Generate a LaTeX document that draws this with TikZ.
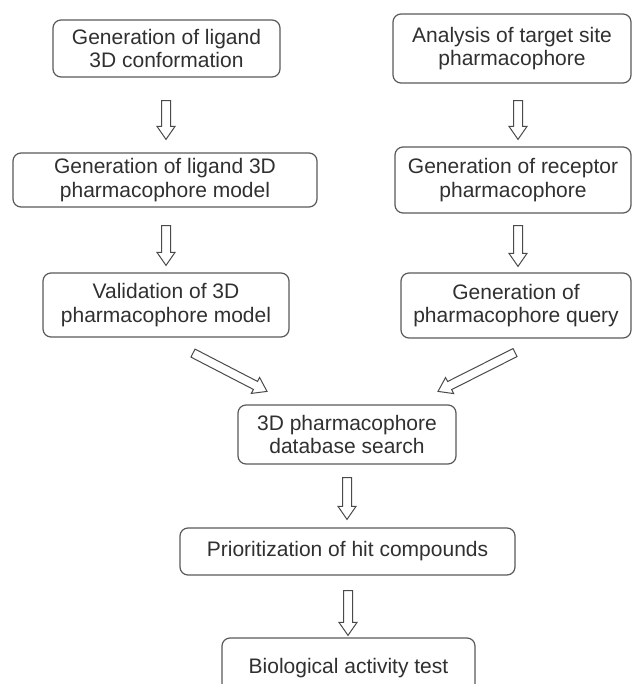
\documentclass[tikz,border=0pt]{standalone}
\usepackage{fontspec}
\setmainfont{Liberation Sans}
\usetikzlibrary{calc}
\definecolor{boxline}{HTML}{5A5A5A}
\definecolor{txt}{HTML}{303030}
\definecolor{arrline}{HTML}{4A4A4A}
\tikzset{
  stepbox/.style={draw=boxline, line width=1.2pt, rounded corners=8pt, fill=white,
    align=center, text=txt, inner sep=0pt,
    font=\fontsize{21}{23.5}\selectfont},
  hollowarrow/.style={draw=arrline, line width=1pt, fill=white, line join=miter}
}
\newcommand{\harrow}[2]{%
  \coordinate (hb) at ($(#2)!13pt!(#1)$);
  \draw[hollowarrow] ($(#1)!4.5pt!90:(#2)$) -- ($(hb)!4.5pt!90:(#2)$) -- ($(hb)!9pt!90:(#2)$) -- (#2) -- ($(hb)!9pt!-90:(#2)$) -- ($(hb)!4.5pt!-90:(#2)$) -- ($(#1)!4.5pt!-90:(#2)$) -- cycle;
}
\begin{document}
\begin{tikzpicture}[x=1pt,y=-1pt]
\useasboundingbox[fill=white] (0,0) rectangle (632,684);

\node[stepbox, minimum width=227pt, minimum height=57pt] (L1) at (166.5,48.5) {Generation of ligand\\3D conformation};
\node[stepbox, minimum width=304pt, minimum height=54pt] (L2) at (165,180) {Generation of ligand 3D\\pharmacophore model};
\node[stepbox, minimum width=246pt, minimum height=64pt] (L3) at (166,305) {Validation of 3D\\pharmacophore model};

\node[stepbox, minimum width=238pt, minimum height=69pt] (R1) at (512,48.5) {Analysis of target site\\pharmacophore};
\node[stepbox, minimum width=236pt, minimum height=66pt] (R2) at (513,180) {Generation of receptor\\pharmacophore};
\node[stepbox, minimum width=230pt, minimum height=65pt] (R3) at (516,305.5) {Generation of\\pharmacophore query};

\node[stepbox, minimum width=218pt, minimum height=59pt] (M) at (347,434.5) {3D pharmacophore\\database search};
\node[stepbox, minimum width=335pt, minimum height=47pt] (P) at (347.5,551.5) {Prioritization of hit compounds};
\node[stepbox, minimum width=253pt, minimum height=60pt] (B) at (348.5,668) {Biological activity test};

\coordinate (a1s) at ($(L1.south)+(-0.5,23)$);
\coordinate (a1e) at ($(L2.north)+(1,-13)$);
\coordinate (b1s) at ($(R1.south)+(6,17)$);
\coordinate (b1e) at ($(R2.north)+(5,-7)$);
\coordinate (a2s) at ($(L2.south)+(1,18)$);
\coordinate (a2e) at ($(L3.north)+(0,-7)$);
\coordinate (b2s) at ($(R2.south)+(5,12)$);
\coordinate (b2e) at ($(R3.north)+(2,-6)$);
\coordinate (c1s) at ($(L3.south)+(27,15.5)$);
\coordinate (c1e) at ($(M.north)+(-80,-13)$);
\coordinate (c2s) at ($(R3.south)+(-1,14)$);
\coordinate (c2e) at ($(M.north)+(91,-13)$);
\coordinate (d1s) at ($(M.south)+(0,13)$);
\coordinate (d1e) at ($(P.north)+(-0.5,-8)$);
\coordinate (d2s) at ($(P.south)+(0.5,15)$);
\coordinate (d2e) at ($(B.north)+(-0.5,-2)$);

\harrow{a1s}{a1e}
\harrow{b1s}{b1e}
\harrow{a2s}{a2e}
\harrow{b2s}{b2e}
\harrow{c1s}{c1e}
\harrow{c2s}{c2e}
\harrow{d1s}{d1e}
\harrow{d2s}{d2e}
\end{tikzpicture}
\end{document}
